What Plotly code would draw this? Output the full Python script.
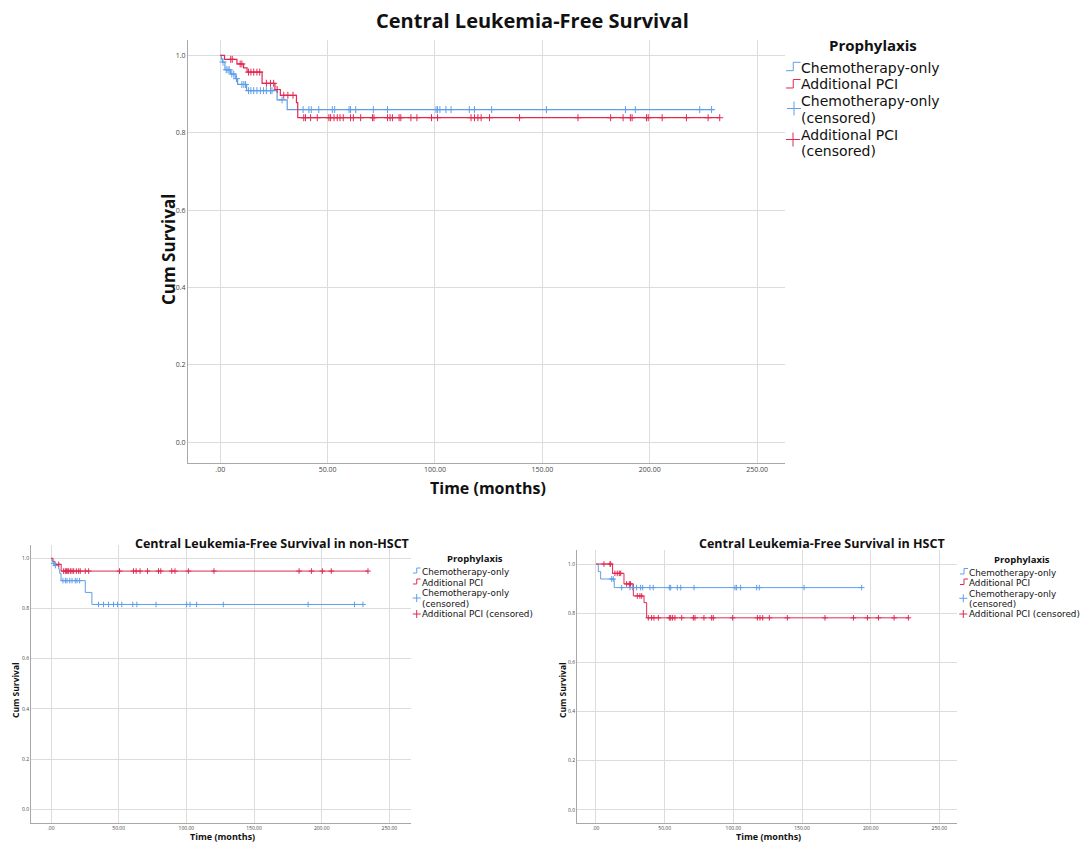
import plotly.graph_objects as go

# ---------------- data ----------------
x_tickvals = [0, 50, 100, 150, 200, 250]
x_ticktext = [".00", "50.00", "100.00", "150.00", "200.00", "250.00"]
y_tickvals = [0.0, 0.2, 0.4, 0.6, 0.8, 1.0]
y_ticktext = ["0.0", "0.2", "0.4", "0.6", "0.8", "1.0"]

legend_title = "Prophylaxis"
group_names = ["Chemotherapy-only", "Additional PCI"]

# Overall cohort
all_chemo_event_t = [0.5, 1.0, 2.2, 4.8, 7.0, 8.1, 12.3, 26.5, 31.2]
all_chemo_surv = [0.991, 0.983, 0.963, 0.952, 0.940, 0.925, 0.909, 0.885, 0.860]
all_chemo_end = 230.0
all_chemo_cens = [1.3, 2.8, 3.6, 4.2, 5.4, 6.3, 7.6, 10.1, 11.0, 11.8, 13.2, 14.3, 15.6,
                  17.1, 18.7, 20.2, 21.5, 23.4, 24.1, 28.8, 38.6, 41.3, 42.4, 45.9, 52.2,
                  53.3, 60.0, 60.7, 63.1, 71.3, 77.9, 100.5, 101.2, 102.3, 105.1, 107.5,
                  116.0, 118.4, 126.4, 151.9, 188.7, 193.3, 223.3, 228.8]

all_pci_event_t = [2.0, 7.8, 10.9, 12.5, 19.5, 25.5, 28.0, 35.5, 36.1]
all_pci_surv = [0.990, 0.978, 0.968, 0.957, 0.928, 0.912, 0.897, 0.878, 0.839]
all_pci_end = 232.6
all_pci_cens = [4.9, 5.6, 9.3, 10.1, 13.2, 14.3, 15.6, 17.1, 18.4, 21.5, 23.4, 24.9, 26.5,
                29.6, 31.5, 33.9, 38.9, 39.7, 42.1, 45.2, 50.6, 51.4, 53.0, 54.5, 55.8,
                57.3, 60.7, 62.0, 65.4, 70.9, 71.6, 77.9, 79.1, 80.2, 83.3, 84.1, 88.8,
                91.6, 98.4, 101.2, 116.8, 118.4, 120.0, 121.5, 125.4, 139.4, 166.6,
                181.8, 187.6, 191.0, 191.8, 198.5, 199.3, 205.8, 217.1, 227.2, 232.6]

# non-HSCT
nh_chemo_event_t = [0.7, 1.5, 2.5, 5.7, 6.4, 7.4, 25.3, 30.2]
nh_chemo_surv = [0.989, 0.980, 0.971, 0.957, 0.940, 0.911, 0.864, 0.816]
nh_chemo_end = 231.0
nh_chemo_cens = [2.0, 3.2, 8.8, 10.6, 11.8, 13.8, 15.5, 17.9, 19.2, 21.1, 35.1, 38.8,
                 42.5, 46.2, 49.1, 52.3, 60.4, 63.4, 77.6, 100.2, 102.7, 107.6, 127.3,
                 190.0, 224.3, 230.5]

nh_pci_event_t = [1.5, 3.0, 7.5]
nh_pci_surv = [0.987, 0.976, 0.949]
nh_pci_end = 234.2
nh_pci_cens = [5.7, 9.3, 10.6, 11.3, 12.0, 13.0, 14.3, 15.5, 16.7, 18.7, 20.4, 21.6,
               25.3, 27.8, 50.6, 60.9, 62.9, 65.8, 71.3, 79.4, 81.1, 89.2, 91.6, 101.5,
               120.4, 183.3, 192.4, 200.5, 207.1, 234.2]

# HSCT
h_chemo_event_t = [1.7, 3.4, 13.3]
h_chemo_surv = [0.969, 0.939, 0.904]
h_chemo_end = 193.4
h_chemo_cens = [11.4, 12.6, 18.7, 24.8, 26.7, 29.6, 32.5, 34.0, 39.3, 41.7, 53.4, 54.4,
                59.2, 61.7, 71.4, 101.2, 102.4, 105.3, 117.0, 118.9, 151.5, 193.4]

h_pci_event_t = [12.1, 20.4, 27.2, 35.0, 36.9]
h_pci_surv = [0.962, 0.919, 0.870, 0.843, 0.781]
h_pci_end = 227.4
h_pci_cens = [5.8, 10.2, 10.7, 13.8, 15.5, 17.0, 18.0, 22.3, 24.3, 25.2, 30.1, 32.0,
              33.3, 38.1, 40.5, 42.2, 45.4, 53.4, 54.4, 55.8, 57.5, 62.4, 70.9, 72.1,
              78.6, 84.2, 85.4, 99.5, 117.5, 119.4, 121.4, 126.2, 139.3, 166.7, 187.4,
              197.6, 205.6, 217.0, 227.4]

# ---------------- helpers ----------------
BLUE = "#5f9fe8"
RED = "#e02a52"
FONT = "Open Sans"
LFONT = "DejaVu Sans"
GRID = "#dcdcdc"
AXL = "#a8a8a8"
W, H = 1086, 844


def px_x(v):
    return v / W


def px_y(v):
    return 1 - v / H


def step_xy(event_t, surv, end):
    xs = [0.0] + list(event_t) + [end]
    ys = [1.0] + list(surv) + [surv[-1]]
    return xs, ys


def surv_at(t, event_t, surv):
    s = 1.0
    for et, sv in zip(event_t, surv):
        if et <= t:
            s = sv
    return s


fig = go.Figure()

panels = [
    ("x", "y", all_chemo_event_t, all_chemo_surv, all_chemo_end, all_chemo_cens,
     all_pci_event_t, all_pci_surv, all_pci_end, all_pci_cens, 1.2, 5),
    ("x2", "y2", nh_chemo_event_t, nh_chemo_surv, nh_chemo_end, nh_chemo_cens,
     nh_pci_event_t, nh_pci_surv, nh_pci_end, nh_pci_cens, 1.0, 4),
    ("x3", "y3", h_chemo_event_t, h_chemo_surv, h_chemo_end, h_chemo_cens,
     h_pci_event_t, h_pci_surv, h_pci_end, h_pci_cens, 1.0, 4),
]

for (xa, ya, ce, cs, cend, cc, pe, ps, pend, pc, lw, msz) in panels:
    cx, cy = step_xy(ce, cs, cend)
    px_, py_ = step_xy(pe, ps, pend)
    fig.add_trace(go.Scatter(x=cx, y=cy, mode="lines", line=dict(color=BLUE, width=lw, shape="hv"),
                             name=group_names[0], xaxis=xa, yaxis=ya, showlegend=False))
    fig.add_trace(go.Scatter(x=px_, y=py_, mode="lines", line=dict(color=RED, width=lw, shape="hv"),
                             name=group_names[1], xaxis=xa, yaxis=ya, showlegend=False))
    fig.add_trace(go.Scatter(x=cc, y=[surv_at(t, ce, cs) for t in cc], mode="markers",
                             marker=dict(symbol="cross-thin", size=msz, color=BLUE,
                                         line=dict(color=BLUE, width=1)),
                             name=group_names[0] + " (censored)", xaxis=xa, yaxis=ya, showlegend=False))
    fig.add_trace(go.Scatter(x=pc, y=[surv_at(t, pe, ps) for t in pc], mode="markers",
                             marker=dict(symbol="cross-thin", size=msz, color=RED,
                                         line=dict(color=RED, width=1)),
                             name=group_names[1] + " (censored)", xaxis=xa, yaxis=ya, showlegend=False))


def xaxis_cfg(domain, rng, anchor, tsize):
    return dict(domain=domain, range=rng, anchor=anchor, tickmode="array",
                tickvals=x_tickvals, ticktext=x_ticktext, showgrid=True, gridcolor=GRID,
                gridwidth=1, zeroline=False, showline=True, linecolor=AXL, linewidth=1,
                ticks="", tickfont=dict(size=tsize, color="#444", family=FONT))


def yaxis_cfg(domain, rng, anchor, tsize):
    return dict(domain=domain, range=rng, anchor=anchor, tickmode="array",
                tickvals=y_tickvals, ticktext=y_ticktext, showgrid=True, gridcolor=GRID,
                gridwidth=1, zeroline=False, showline=True, linecolor=AXL, linewidth=1,
                ticks="", tickfont=dict(size=tsize, color="#444", family=FONT))


annotations = []
shapes = []


def text(s, x, y, size, bold=False, anchor="left", angle=0, family=FONT):
    annotations.append(dict(text=("<b>%s</b>" % s) if bold else s, x=px_x(x), y=px_y(y),
                            xref="paper", yref="paper", showarrow=False, xanchor=anchor,
                            yanchor="middle", textangle=angle, borderpad=0,
                            font=dict(size=size, family=family, color="#111")))


def step_icon(x0, x1, ylow, yhigh, color):
    xm = (x0 + x1) / 2
    path = "M %f,%f L %f,%f L %f,%f L %f,%f" % (px_x(x0), px_y(ylow), px_x(xm), px_y(ylow),
                                                 px_x(xm), px_y(yhigh), px_x(x1), px_y(yhigh))
    shapes.append(dict(type="path", path=path, xref="paper", yref="paper",
                       line=dict(color=color, width=1)))


def cross_icon(cx, cy, r, color):
    shapes.append(dict(type="line", xref="paper", yref="paper", x0=px_x(cx - r), x1=px_x(cx + r),
                       y0=px_y(cy), y1=px_y(cy), line=dict(color=color, width=1)))
    shapes.append(dict(type="line", xref="paper", yref="paper", x0=px_x(cx), x1=px_x(cx),
                       y0=px_y(cy - r), y1=px_y(cy + r), line=dict(color=color, width=1)))


# ---- titles ----
text("Central Leukemia-Free Survival", 532, 20, 20, bold=True, anchor="center")
text("Central Leukemia-Free Survival in non-HSCT", 272, 543, 12.5, bold=True, anchor="center")
text("Central Leukemia-Free Survival in HSCT", 822, 543, 12.5, bold=True, anchor="center")

# ---- axis titles ----
text("Time (months)", 488, 488, 16, bold=True, anchor="center")
text("Cum Survival", 168, 250, 17, bold=True, anchor="center", angle=-90)
text("Time (months)", 222, 836.5, 9, bold=True, anchor="center")
text("Cum Survival", 15, 690, 8.5, bold=True, anchor="center", angle=-90)
text("Time (months)", 768, 836.5, 9, bold=True, anchor="center")
text("Cum Survival", 562, 690, 8.5, bold=True, anchor="center", angle=-90)

# ---- legends ----
c_cens = group_names[0]
p_cens = group_names[1]

# main legend
text(legend_title, 873, 45, 15, bold=True, anchor="center")
step_icon(786, 800.5, 70.7, 62.3, BLUE)
text(group_names[0], 800, 67.5, 14, family=LFONT)
step_icon(786, 800.5, 88, 79.5, RED)
text(group_names[1], 800, 84.3, 14, family=LFONT)
cross_icon(794, 108.5, 7, BLUE)
text(c_cens, 800, 101, 14, family=LFONT)
text("(censored)", 800, 117.5, 14, family=LFONT)
cross_icon(793, 139.5, 7, RED)
text(p_cens, 800, 134.5, 14, family=LFONT)
text("(censored)", 800, 151, 14, family=LFONT)

# non-HSCT legend
text(legend_title, 475, 558, 9.5, bold=True, anchor="center")
step_icon(413, 420.5, 573, 568, BLUE)
text(group_names[0], 420.5, 572, 8.8, family=LFONT)
step_icon(413, 420.5, 584, 579, RED)
text(group_names[1], 420.5, 582.7, 8.8, family=LFONT)
cross_icon(416.7, 598, 4, BLUE)
text(c_cens, 420.5, 593.3, 8.8, family=LFONT)
text("(censored)", 420.5, 603.7, 8.8, family=LFONT)
cross_icon(416.7, 614, 4, RED)
text(p_cens + " (censored)", 420.5, 614.3, 8.8, family=LFONT)

# HSCT legend
text(legend_title, 1021.5, 559, 9.5, bold=True, anchor="center")
step_icon(960, 968, 574, 568.5, BLUE)
text(group_names[0], 968, 572.7, 8.8, family=LFONT)
step_icon(960, 968, 584.5, 579, RED)
text(group_names[1], 968, 583, 8.8, family=LFONT)
cross_icon(963.3, 598.3, 4, BLUE)
text(c_cens, 968, 593.5, 8.8, family=LFONT)
text("(censored)", 968, 603.8, 8.8, family=LFONT)
cross_icon(963.3, 614, 4, RED)
text(p_cens + " (censored)", 968, 614.2, 8.8, family=LFONT)

fig.update_layout(
    width=W, height=H,
    margin=dict(l=0, r=0, t=0, b=0),
    paper_bgcolor="white", plot_bgcolor="white",
    font=dict(family=FONT, color="#111"),
    showlegend=False,
    xaxis=xaxis_cfg([px_x(188), px_x(785)], [-15, 263], "y", 7),
    yaxis=yaxis_cfg([px_y(463), px_y(40)], [-0.054, 1.04], "x", 7),
    xaxis2=xaxis_cfg([px_x(31), px_x(411)], [-14.8, 266], "y2", 5),
    yaxis2=yaxis_cfg([px_y(823), px_y(545)], [-0.055, 1.053], "x2", 5),
    xaxis3=xaxis_cfg([px_x(577), px_x(957)], [-13.8, 262.8], "y3", 5),
    yaxis3=yaxis_cfg([px_y(823.3), px_y(550)], [-0.055, 1.057], "x3", 5),
    annotations=annotations,
    shapes=shapes,
)

fig.write_html("out.html", config={"displayModeBar": False},
               post_script="document.body.style.margin='0px';document.body.style.overflow='hidden';")
